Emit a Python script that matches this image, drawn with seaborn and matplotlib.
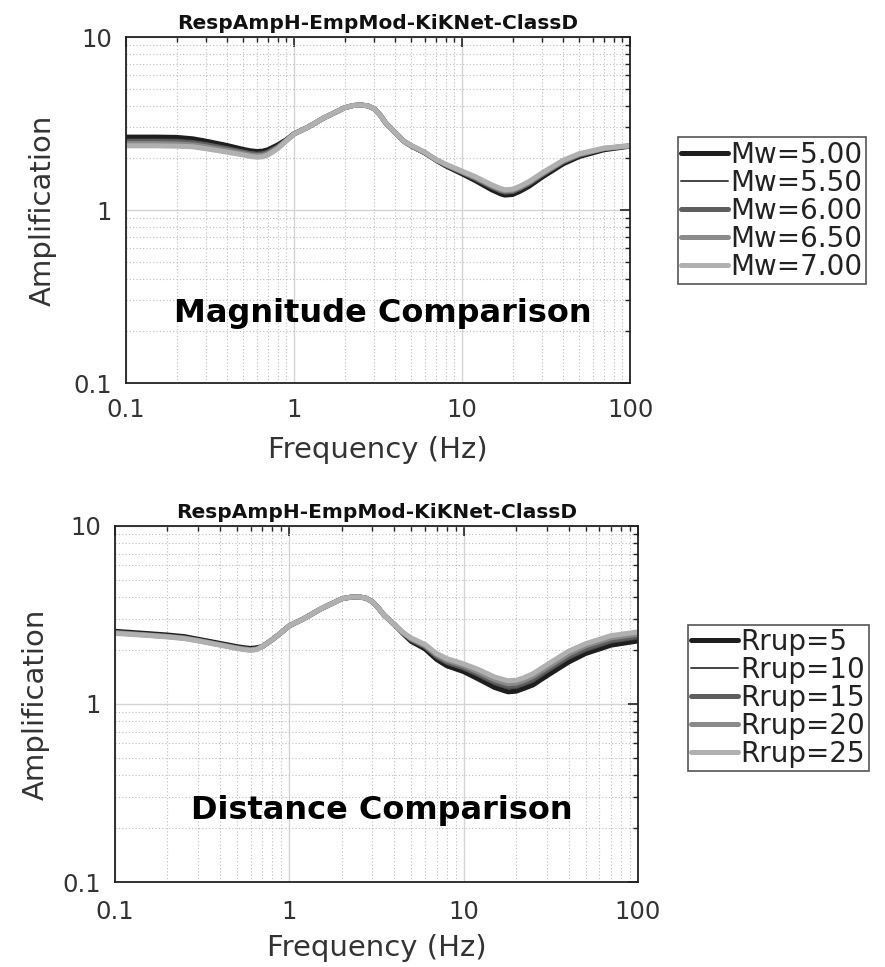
import matplotlib
matplotlib.use("Agg")
import matplotlib.pyplot as plt
import seaborn as sns
import pandas as pd
from matplotlib.ticker import FixedLocator, FixedFormatter, LogLocator, NullFormatter

# ---------------- data ----------------
freq = [0.1, 0.15, 0.2, 0.25, 0.3, 0.4, 0.5, 0.55, 0.6, 0.65, 0.7, 0.8, 0.9,
        1.0, 1.2, 1.5, 2.0, 2.25, 2.5, 2.75, 3.0, 3.25, 3.5,
        4.0, 4.5, 5.0, 6.0, 7.0, 8.0, 10, 12,
        15, 17, 18, 20, 22, 25, 30,
        40, 50, 70, 100]

mw_labels = ["Mw=5.00", "Mw=5.50", "Mw=6.00", "Mw=6.50", "Mw=7.00"]
amp_mw500 = [2.64, 2.64, 2.63, 2.58, 2.50, 2.36, 2.24, 2.20, 2.18, 2.19, 2.23, 2.38, 2.55,
             2.76, 3.00, 3.40, 3.90, 4.02, 4.05, 4.00, 3.85, 3.55, 3.20,
             2.80, 2.50, 2.34, 2.14, 1.94, 1.80, 1.62, 1.48,
             1.31, 1.24, 1.22, 1.23, 1.28, 1.37, 1.55,
             1.85, 2.04, 2.23, 2.34]
amp_mw550 = [2.56, 2.56, 2.55, 2.51, 2.44, 2.31, 2.20, 2.16, 2.14, 2.15, 2.20, 2.35, 2.54,
             2.75, 3.00, 3.40, 3.90, 4.02, 4.05, 4.00, 3.85, 3.55, 3.20,
             2.80, 2.50, 2.35, 2.15, 1.95, 1.81, 1.64, 1.50,
             1.34, 1.27, 1.25, 1.26, 1.31, 1.40, 1.58,
             1.88, 2.06, 2.25, 2.35]
amp_mw600 = [2.49, 2.49, 2.48, 2.44, 2.38, 2.26, 2.16, 2.12, 2.10, 2.11, 2.16, 2.32, 2.53,
             2.75, 3.00, 3.40, 3.90, 4.02, 4.05, 4.00, 3.85, 3.55, 3.20,
             2.80, 2.50, 2.35, 2.15, 1.95, 1.82, 1.65, 1.52,
             1.36, 1.29, 1.27, 1.28, 1.33, 1.42, 1.60,
             1.90, 2.08, 2.26, 2.35]
amp_mw650 = [2.42, 2.42, 2.41, 2.38, 2.32, 2.21, 2.12, 2.08, 2.06, 2.07, 2.12, 2.29, 2.52,
             2.75, 3.00, 3.40, 3.90, 4.02, 4.05, 4.00, 3.85, 3.55, 3.20,
             2.80, 2.50, 2.35, 2.15, 1.95, 1.83, 1.66, 1.54,
             1.38, 1.31, 1.29, 1.30, 1.35, 1.44, 1.62,
             1.92, 2.10, 2.27, 2.35]
amp_mw700 = [2.35, 2.35, 2.34, 2.32, 2.26, 2.16, 2.08, 2.04, 2.02, 2.03, 2.08, 2.26, 2.51,
             2.75, 3.00, 3.40, 3.90, 4.02, 4.05, 4.00, 3.85, 3.55, 3.20,
             2.80, 2.50, 2.36, 2.16, 1.96, 1.84, 1.68, 1.56,
             1.40, 1.33, 1.31, 1.32, 1.37, 1.46, 1.64,
             1.94, 2.12, 2.28, 2.36]

rrup_labels = ["Rrup=5", "Rrup=10", "Rrup=15", "Rrup=20", "Rrup=25"]
amp_r05 = [2.56, 2.49, 2.44, 2.39, 2.31, 2.19, 2.10, 2.07, 2.05, 2.07, 2.10, 2.30, 2.52,
           2.75, 3.00, 3.40, 3.90, 3.98, 4.00, 3.93, 3.75, 3.45, 3.15,
           2.80, 2.48, 2.25, 2.04, 1.78, 1.64, 1.52, 1.39,
           1.24, 1.19, 1.17, 1.18, 1.22, 1.28, 1.44,
           1.72, 1.92, 2.14, 2.26]
amp_r10 = [2.54, 2.47, 2.42, 2.37, 2.30, 2.18, 2.09, 2.05, 2.03, 2.05, 2.10, 2.30, 2.52,
           2.75, 3.00, 3.40, 3.90, 3.98, 4.00, 3.93, 3.75, 3.45, 3.15,
           2.80, 2.49, 2.28, 2.07, 1.81, 1.68, 1.56, 1.44,
           1.29, 1.24, 1.22, 1.23, 1.27, 1.33, 1.50,
           1.79, 1.98, 2.21, 2.33]
amp_r15 = [2.52, 2.45, 2.40, 2.35, 2.28, 2.16, 2.07, 2.04, 2.02, 2.04, 2.10, 2.30, 2.52,
           2.75, 3.00, 3.40, 3.90, 3.98, 4.00, 3.93, 3.75, 3.45, 3.15,
           2.80, 2.50, 2.30, 2.10, 1.85, 1.72, 1.60, 1.48,
           1.33, 1.28, 1.26, 1.27, 1.31, 1.38, 1.55,
           1.85, 2.05, 2.28, 2.40]
amp_r20 = [2.51, 2.44, 2.39, 2.34, 2.27, 2.15, 2.06, 2.03, 2.01, 2.03, 2.10, 2.30, 2.52,
           2.75, 3.00, 3.40, 3.90, 3.98, 4.00, 3.93, 3.75, 3.45, 3.15,
           2.80, 2.51, 2.32, 2.13, 1.89, 1.76, 1.64, 1.52,
           1.37, 1.32, 1.30, 1.31, 1.35, 1.43, 1.60,
           1.91, 2.12, 2.35, 2.47]
amp_r25 = [2.49, 2.43, 2.38, 2.33, 2.26, 2.14, 2.05, 2.02, 2.00, 2.02, 2.10, 2.30, 2.52,
           2.75, 3.00, 3.40, 3.90, 3.98, 4.00, 3.93, 3.75, 3.45, 3.15,
           2.80, 2.52, 2.35, 2.16, 1.92, 1.80, 1.68, 1.57,
           1.42, 1.37, 1.35, 1.36, 1.40, 1.48, 1.66,
           1.98, 2.18, 2.42, 2.54]

title_text = "RespAmpH-EmpMod-KiKNet-ClassD"
x_ticks = [0.1, 1, 10, 100]
x_ticklabels = ["0.1", "1", "10", "100"]
y_ticks = [0.1, 1, 10]
y_ticklabels = ["0.1", "1", "10"]

# ---------------- style ----------------
sns.set_style("white")
plt.rcParams["font.family"] = ["DejaVu Sans"]

line_colors = ["#1e1e1e", "#444444", "#5e5e5e", "#8a8a8a", "#b0b0b0"]
line_widths = [3.6, 1.4, 3.6, 3.6, 3.6]

fig = plt.figure(figsize=(8.85, 9.67), dpi=100)
ax1 = fig.add_axes([0.1424, 0.6039, 0.5695, 0.3578])
ax2 = fig.add_axes([0.1299, 0.0879, 0.5910, 0.3682])


def build(ax, series, labels, note, legend_anchor, xpad, xlabelpad, ylabelpad):
    for vals, lab, c, lw in zip(series, labels, line_colors, line_widths):
        df = pd.DataFrame({"Frequency": freq, "Amplification": vals})
        sns.lineplot(data=df, x="Frequency", y="Amplification", ax=ax,
                     color=c, lw=lw, label=lab, legend=False)
    ax.set_xscale("log")
    ax.set_yscale("log")
    ax.set_xlim(0.1, 100)
    ax.set_ylim(0.1, 10)
    ax.xaxis.set_major_locator(FixedLocator(x_ticks))
    ax.xaxis.set_major_formatter(FixedFormatter(x_ticklabels))
    ax.yaxis.set_major_locator(FixedLocator(y_ticks))
    ax.yaxis.set_major_formatter(FixedFormatter(y_ticklabels))
    ax.xaxis.set_minor_locator(LogLocator(base=10, subs=range(2, 10), numticks=20))
    ax.yaxis.set_minor_locator(LogLocator(base=10, subs=range(2, 10), numticks=20))
    ax.xaxis.set_minor_formatter(NullFormatter())
    ax.yaxis.set_minor_formatter(NullFormatter())
    ax.grid(which="major", color="#d4d4d4", lw=1.0, ls="-")
    ax.grid(which="minor", color="#bdbdbd", lw=0.8, ls=(0, (1, 2)))
    ax.set_axisbelow(True)
    ax.tick_params(which="both", direction="in", top=True, right=True,
                   labelsize=17.5, colors="#222222", labelcolor="#333333")
    ax.tick_params(which="major", length=7, width=1.2)
    ax.tick_params(which="minor", length=3.5, width=1.0)
    ax.tick_params(axis="x", which="major", pad=xpad)
    ax.tick_params(axis="y", which="major", pad=10)
    for sp in ax.spines.values():
        sp.set_color("#222222")
        sp.set_linewidth(1.3)
    ax.set_xlabel("Frequency (Hz)", fontsize=21, color="#333333", labelpad=xlabelpad)
    ax.set_ylabel("Amplification", fontsize=21, color="#333333", labelpad=ylabelpad)
    ax.set_title(title_text, fontsize=14.5, fontweight="bold", color="#111111", pad=6)
    ax.text(0.51, 0.20, note, transform=ax.transAxes, ha="center", va="center",
            fontsize=23, fontweight="bold", color="#000000")
    leg = fig.legend(handles=ax.get_lines()[:5], labels=labels, loc="upper left",
                     bbox_to_anchor=legend_anchor, bbox_transform=fig.transFigure,
                     fontsize=20, frameon=True, fancybox=False, framealpha=1,
                     edgecolor="#555555", handlelength=1.7, handletextpad=0.08,
                     labelspacing=0.0, borderpad=0.12, borderaxespad=0)
    leg.get_frame().set_linewidth(1.2)
    for t in leg.get_texts():
        t.set_color("#222222")


build(ax1, [amp_mw500, amp_mw550, amp_mw600, amp_mw650, amp_mw700], mw_labels,
      "Magnitude Comparison", (0.766, 0.858), xpad=11, xlabelpad=10, ylabelpad=12)
build(ax2, [amp_r05, amp_r10, amp_r15, amp_r20, amp_r25], rrup_labels,
      "Distance Comparison", (0.777, 0.354), xpad=13, xlabelpad=7, ylabelpad=9)

fig.savefig("out.png", dpi=100)
